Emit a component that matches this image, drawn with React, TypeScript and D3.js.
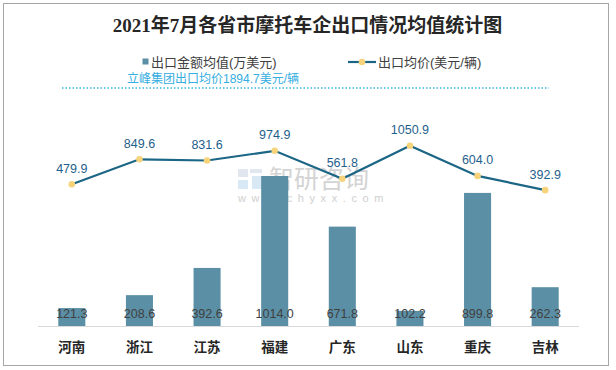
import React, { useEffect } from "react";
import * as d3 from "d3";

const provinces = ["河南", "浙江", "江苏", "福建", "广东", "山东", "重庆", "吉林"];
const exportValue = [121.3, 208.6, 392.6, 1014.0, 671.8, 102.2, 899.8, 262.3];
const avgPrice = [479.9, 849.6, 831.6, 974.9, 561.8, 1050.9, 604.0, 392.9];

const W = 616;
const H = 370;
const baseY = 326;

const cjk = "'Liberation Sans', 'Noto Sans CJK SC', sans-serif";

const App = () => {
  useEffect(() => {
    document.body.style.margin = "0";
  }, []);

  const x = d3
    .scaleBand()
    .domain(provinces)
    .range([38, 579])
    .paddingInner(0.6)
    .paddingOuter(0.3);
  const cx = (p) => x(p) + x.bandwidth() / 2;

  // bar axis (primary) and price axis (secondary)
  const yBar = d3.scaleLinear().domain([0, 1200]).range([baseY, 148.5]);
  const yLine = d3.scaleLinear().domain([0, 1200]).range([216.7, 135.6]);

  const line = d3
    .line()
    .x((d, i) => cx(provinces[i]))
    .y((d) => yLine(d));

  return (
    <svg width={W} height={H} style={{ display: "block" }}>
      <rect x={0} y={0} width={W} height={H} fill="#fff" />
      <rect x={3.5} y={3.5} width={605} height={362} fill="none" stroke="#a6a6a6" />

      <text
        x={307.5}
        y={32}
        textAnchor="middle"
        fontSize={19}
        fontWeight="bold"
        fill="#262626"
        fontFamily="'Liberation Serif', 'Noto Sans CJK SC', serif"
      >
        2021年7月各省市摩托车企出口情况均值统计图
      </text>

      {/* legend */}
      <rect x={142.5} y={58.5} width={6} height={6} fill="#5b8fa6" />
      <text x={151} y={66.5} fontSize={13} fill="#404040" fontFamily={cjk}>
        出口金额均值(万美元)
      </text>
      <line x1={348} x2={376} y1={62} y2={62} stroke="#1b6585" strokeWidth={2.2} />
      <circle cx={362} cy={62} r={3.3} fill="#f7d47c" />
      <text x={378} y={66.5} fontSize={13} fill="#404040" fontFamily={cjk}>
        出口均价(美元/辆)
      </text>

      <text x={127} y={82.5} fontSize={12} fill="#35ade0" fontFamily={cjk}>
        立峰集团出口均价1894.7美元/辆
      </text>
      <line
        x1={62}
        x2={549}
        y1={88}
        y2={88}
        stroke="#3ab5e0"
        strokeWidth={1.5}
        strokeDasharray="1.5 2"
      />

      {/* watermark */}
      <g opacity={0.55}>
        <rect x={238} y={169} width={10} height={8} fill="#c9d3e3" />
        <rect x={238} y={180} width={10} height={9} fill="#b9d8ee" />
        <rect x={250} y={169} width={12} height={4} fill="#c9d3e3" />
        <rect x={252} y={176} width={10} height={13} fill="#b9d8ee" />
        <text x={269} y={188} fontSize={25} fill="#b0b0b0" fontFamily={cjk}>
          智研咨询
        </text>
        <text
          x={238}
          y={202}
          fontSize={11}
          fill="#a8a8a8"
          letterSpacing={5.6}
          fontFamily={cjk}
        >
          www.chyxx.com
        </text>
      </g>

      {/* bars */}
      {provinces.map((p, i) => (
        <rect
          key={p}
          x={x(p)}
          y={yBar(exportValue[i])}
          width={x.bandwidth()}
          height={baseY - yBar(exportValue[i])}
          fill="#5b8fa6"
        />
      ))}

      <line x1={38} x2={579} y1={baseY + 0.5} y2={baseY + 0.5} stroke="#d9d9d9" strokeWidth={1.2} />

      {provinces.map((p, i) => (
        <text
          key={p}
          x={cx(p)}
          y={317.5}
          textAnchor="middle"
          fontSize={12.5}
          fill="#404040"
          fontFamily={cjk}
        >
          {exportValue[i].toFixed(1)}
        </text>
      ))}

      {/* line series */}
      <path d={line(avgPrice)} fill="none" stroke="#1b6585" strokeWidth={2.2} />
      {avgPrice.map((v, i) => (
        <circle key={i} cx={cx(provinces[i])} cy={yLine(v)} r={3.3} fill="#f7d47c" />
      ))}
      {avgPrice.map((v, i) => (
        <text
          key={i}
          x={cx(provinces[i])}
          y={yLine(v) - 11.5}
          textAnchor="middle"
          fontSize={12.5}
          fill="#1f5f8b"
          fontFamily={cjk}
        >
          {v.toFixed(1)}
        </text>
      ))}

      {/* category labels */}
      {provinces.map((p) => (
        <text
          key={p}
          x={cx(p)}
          y={352}
          textAnchor="middle"
          fontSize={13.5}
          fontWeight="bold"
          fill="#262626"
          fontFamily="'Noto Sans CJK SC', sans-serif"
        >
          {p}
        </text>
      ))}
    </svg>
  );
};

export default App;
